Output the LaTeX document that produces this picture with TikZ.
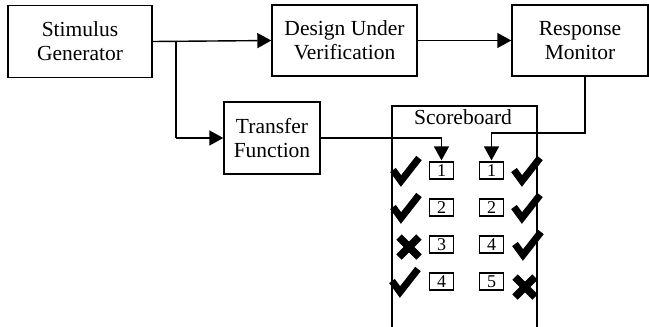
\documentclass[tikz,border=0pt]{standalone}
\usepackage{fontspec}
\setmainfont{Liberation Serif}
\usetikzlibrary{arrows.meta}
\begin{document}
\begin{tikzpicture}[x=1pt,y=-1pt,
  blk/.style={draw,line width=1.4pt,inner sep=0pt,align=center,
    font=\fontsize{21.5}{24}\selectfont},
  sbox/.style={draw,line width=1.2pt,inner sep=0pt,minimum width=24pt,minimum height=17pt,
    font=\fontsize{18}{18}\selectfont},
  conn/.style={line width=1.4pt,-{Triangle[length=14pt,width=15pt]}},
  plain/.style={line width=1.4pt},
  okmark/.style={line width=7pt,line join=miter,line cap=butt},
  nomark/.style={line width=7.5pt,line cap=butt}]
\useasboundingbox (0,0) rectangle (649,327);
\node[blk,minimum width=144pt,minimum height=72pt] (sg) at (80,41.5) {Stimulus\\Generator};
\node[blk,minimum width=145pt,minimum height=71pt] (duv) at (344.5,40.5) {Design Under\\Verification};
\node[blk,minimum width=136pt,minimum height=71pt] (rm) at (580,40.5) {Response\\Monitor};
\node[blk,minimum width=96pt,minimum height=72pt] (tf) at (272,138) {Transfer\\Function};
% scoreboard
\draw[plain] (392,327) -- (392,106) -- (537,106) -- (537,327);
\node[font=\fontsize{21.5}{24}\selectfont] (sbt) at (463,117) {Scoreboard};
% left column
\node[sbox] (l1) at (441.5,170.5) {1};
\node[sbox] (l2) at (441.5,207.5) {2};
\node[sbox] (l3) at (441.5,244.5) {3};
\node[sbox] (l4) at (441.5,281.5) {4};
% right column
\node[sbox] (r1) at (491.5,170.5) {1};
\node[sbox] (r2) at (491.5,207.5) {2};
\node[sbox] (r3) at (491.5,244.5) {4};
\node[sbox] (r4) at (491.5,281.5) {5};
% connectors
\coordinate (br) at (176,41);
\draw[conn] (sg.east) -- (duv.west);
\draw[plain] (br) -- (176,138);
\draw[conn] (176,138) -- (tf.west);
\draw[conn] (duv.east) -- (rm.west);
\coordinate (tfc) at (l1.north |- tf.east);
\draw[conn,shorten >=1pt] (tf.east) -- (tfc) -- (l1.north);
\coordinate (rmd) at ([xshift=5pt]rm.south);
\coordinate (rmc) at (585,133);
\coordinate (rmr) at (r1.north |- rmc);
\draw[conn,shorten >=1pt] (rmd) -- (rmc) -- (rmr) -- (r1.north);
% marks
\foreach \px/\py in {401/184, 401/221, 400/295, 522/184, 522/221, 523/258} {
  \draw[okmark] (\px-8,\py-14) -- (\px,\py-3) -- (\px+18,\py-26);
}
\foreach \px/\py in {409/247, 525/287} {
  \draw[nomark] (\px-10,\py-10) -- (\px+10,\py+10);
  \draw[nomark] (\px-10,\py+10) -- (\px+10,\py-10);
}
\end{tikzpicture}
\end{document}
